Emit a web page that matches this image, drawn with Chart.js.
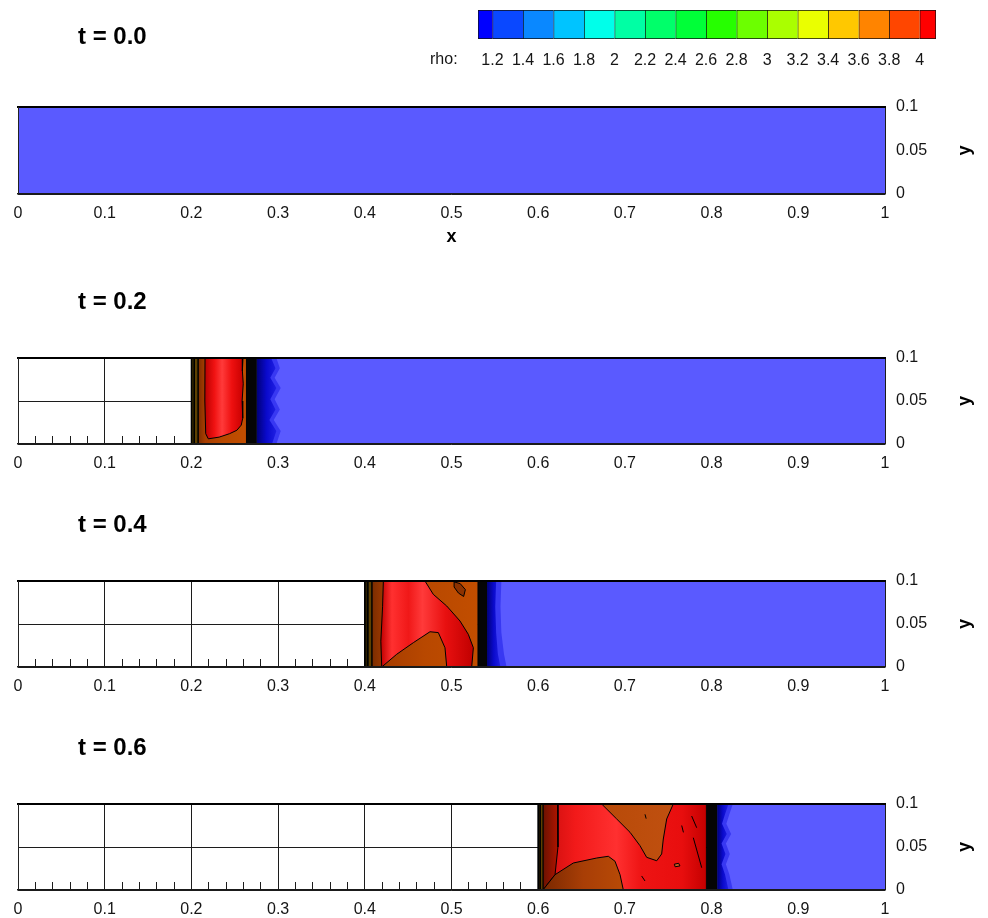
<!DOCTYPE html>
<html>
<head>
<meta charset="utf-8">
<title>Density field, shock tube, t = 0.0 to 0.6</title>
<script src="https://cdn.jsdelivr.net/npm/chart.js@4.4.1/dist/chart.umd.min.js"></script>
<style>
  html, body { margin: 0; padding: 0; background: #fff; }
  #page { position: relative; width: 988px; height: 918px; overflow: hidden; background: #fff; }
  .band { position: absolute; left: 0; width: 988px; }
  #legendBox { position: absolute; left: 400px; top: 0; width: 588px; height: 80px; }
</style>
</head>
<body>
<div id="page">
  <div class="band" style="top:0;height:255px"><canvas id="panel0"></canvas></div>
  <div class="band" style="top:255px;height:225px"><canvas id="panel1"></canvas></div>
  <div class="band" style="top:480px;height:222px"><canvas id="panel2"></canvas></div>
  <div class="band" style="top:702px;height:216px"><canvas id="panel3"></canvas></div>
  <div id="legendBox"><canvas id="legend"></canvas></div>
</div>
<script>
// ---------- axes ----------
const xTicks = [0, 0.1, 0.2, 0.3, 0.4, 0.5, 0.6, 0.7, 0.8, 0.9, 1];
const xMinorTicks = [0.02, 0.04, 0.06, 0.08, 0.12, 0.14, 0.16, 0.18, 0.22, 0.24, 0.26, 0.28,
  0.32, 0.34, 0.36, 0.38, 0.42, 0.44, 0.46, 0.48, 0.52, 0.54, 0.56, 0.58, 0.62, 0.64, 0.66, 0.68,
  0.72, 0.74, 0.76, 0.78, 0.82, 0.84, 0.86, 0.88, 0.92, 0.94, 0.96, 0.98];
const yTicks = [0, 0.05, 0.1];
const xName = 'x';
const yName = 'y';
const timeLabels = ['t = 0.0', 't = 0.2', 't = 0.4', 't = 0.6'];

// ---------- density legend ----------
const rhoName = 'rho:';
const rhoTicks = [1.2, 1.4, 1.6, 1.8, 2, 2.2, 2.4, 2.6, 2.8, 3, 3.2, 3.4, 3.6, 3.8, 4];
const rhoLevels = [1.105, 1.2, 1.4, 1.6, 1.8, 2, 2.2, 2.4, 2.6, 2.8, 3, 3.2, 3.4, 3.6, 3.8, 4, 4.107];
const rhoColors = ['#0000ff', '#0a48ff', '#0a88ff', '#00c4ff', '#00ffea', '#00ffa4', '#00ff6a',
  '#00ff38', '#26ff00', '#6cff00', '#aaff00', '#eaff00', '#ffc800', '#ff8400', '#ff4600', '#ff0000'];

// ---------- density regions (x, y) ----------
// t = 0.0 : undisturbed gas
const gas00 = [[0, 0], [1, 0], [1, 0.1], [0, 0.1], [0, 0]];

// t = 0.2
const wallA02 = [[0.2, 0], [0.2035, 0], [0.2035, 0.1], [0.2, 0.1], [0.2, 0]];
const wallB02 = [[0.2035, 0], [0.2075, 0], [0.2075, 0.1], [0.2035, 0.1], [0.2035, 0]];
const slab02 = [[0.2075, 0], [0.2635, 0], [0.2635, 0.1], [0.2075, 0.1], [0.2075, 0]];
const core02 = [[0.2157, 0.1], [0.2595, 0.1], [0.2588, 0.085], [0.2598, 0.07], [0.2585, 0.05],
  [0.2592, 0.03], [0.2575, 0.022], [0.2525, 0.016], [0.244, 0.012], [0.232, 0.008], [0.2195, 0.006],
  [0.2165, 0.012], [0.2155, 0.05], [0.2157, 0.1]];
const shell02 = [[0.2635, 0], [0.2755, 0], [0.2755, 0.1], [0.2635, 0.1], [0.2635, 0]];
const frontDark02 = [[0.2755, 0.1], [0.292, 0.1], [0.297, 0.088], [0.291, 0.077], [0.298, 0.065],
  [0.291, 0.052], [0.297, 0.04], [0.29, 0.028], [0.298, 0.015], [0.293, 0], [0.2755, 0], [0.2755, 0.1]];
const frontMid02 = [[0.2755, 0.1], [0.298, 0.1], [0.302, 0.088], [0.296, 0.077], [0.303, 0.065],
  [0.296, 0.052], [0.302, 0.04], [0.295, 0.028], [0.303, 0.015], [0.298, 0], [0.2755, 0], [0.2755, 0.1]];
const gas02 = [[0.27, 0], [1, 0], [1, 0.1], [0.27, 0.1], [0.27, 0]];

// t = 0.4
const wallA04 = [[0.4, 0], [0.4035, 0], [0.4035, 0.1], [0.4, 0.1], [0.4, 0]];
const wallB04 = [[0.4035, 0], [0.408, 0], [0.408, 0.1], [0.4035, 0.1], [0.4035, 0]];
const slab04 = [[0.408, 0], [0.5305, 0], [0.5305, 0.1], [0.408, 0.1], [0.408, 0]];
const core04 = [[0.4214, 0.1], [0.4694, 0.1], [0.479, 0.0845], [0.4945, 0.0709], [0.5098, 0.0535],
  [0.5194, 0.038], [0.5252, 0.0224], [0.5233, 0], [0.4945, 0], [0.4925, 0.0224], [0.4848, 0.04],
  [0.4752, 0.041], [0.456, 0.0283], [0.4368, 0.0148], [0.4195, 0], [0.4185, 0.03], [0.4205, 0.07],
  [0.4214, 0.1]];
const eddy04 = [[0.503, 0.099], [0.51, 0.097], [0.516, 0.09], [0.514, 0.082], [0.508, 0.086],
  [0.503, 0.093], [0.503, 0.099]];
const shell04 = [[0.5305, 0], [0.541, 0], [0.541, 0.1], [0.5305, 0.1], [0.5305, 0]];
const frontDark04 = [[0.541, 0.1], [0.5515, 0.1], [0.5505, 0.07], [0.5515, 0.04], [0.5535, 0.015],
  [0.5565, 0], [0.541, 0], [0.541, 0.1]];
const frontMid04 = [[0.541, 0.1], [0.5575, 0.1], [0.5565, 0.07], [0.5575, 0.04], [0.5605, 0.015],
  [0.5635, 0], [0.541, 0], [0.541, 0.1]];
const gas04 = [[0.535, 0], [1, 0], [1, 0.1], [0.535, 0.1], [0.535, 0]];

// t = 0.6
const wallA06 = [[0.6, 0], [0.6025, 0], [0.6025, 0.1], [0.6, 0.1], [0.6, 0]];
const wallB06 = [[0.6025, 0], [0.6055, 0], [0.6055, 0.1], [0.6025, 0.1], [0.6025, 0]];
const slab06 = [[0.6055, 0], [0.794, 0], [0.794, 0.1], [0.6055, 0.1], [0.6055, 0]];
const rim06 = [[0.6055, 0.1], [0.6225, 0.1], [0.6228, 0.05], [0.6194, 0.0178], [0.6055, 0], [0.6055, 0.1]];
const lobeA06 = [[0.6732, 0.1], [0.6905, 0.0826], [0.7059, 0.0671], [0.7174, 0.0515], [0.7251, 0.038],
  [0.7367, 0.034], [0.7424, 0.0419], [0.7443, 0.0593], [0.7482, 0.0826], [0.7558, 0.1], [0.6732, 0.1]];
const lobeB06 = [[0.6055, 0], [0.6194, 0.0178], [0.6405, 0.0314], [0.6675, 0.0372], [0.6809, 0.0392],
  [0.6886, 0.0334], [0.6944, 0.0178], [0.6982, 0], [0.6055, 0]];
const blob06 = [[0.757, 0.03], [0.762, 0.031], [0.7635, 0.028], [0.758, 0.027], [0.757, 0.03]];
const streak06a = [[0.7232, 0.088], [0.7245, 0.083]];
const streak06b = [[0.777, 0.086], [0.7828, 0.0724]];
const streak06c = [[0.7789, 0.0608], [0.7886, 0.0259]];
const streak06d = [[0.7193, 0.0163], [0.7232, 0.0105]];
const streak06e = [[0.7655, 0.075], [0.7675, 0.067]];
const shell06 = [[0.794, 0], [0.8065, 0], [0.8065, 0.1], [0.794, 0.1], [0.794, 0]];
const frontDark06 = [[0.8065, 0.1], [0.8195, 0.1], [0.8155, 0.088], [0.812, 0.077], [0.8175, 0.065],
  [0.8115, 0.054], [0.816, 0.042], [0.8115, 0.03], [0.8155, 0.018], [0.8195, 0], [0.8065, 0], [0.8065, 0.1]];
const frontMid06 = [[0.8065, 0.1], [0.8245, 0.1], [0.8205, 0.088], [0.817, 0.077], [0.8225, 0.065],
  [0.8165, 0.054], [0.821, 0.042], [0.8165, 0.03], [0.8205, 0.018], [0.8245, 0], [0.8065, 0], [0.8065, 0.1]];
const gas06 = [[0.8, 0], [1, 0], [1, 0.1], [0.8, 0.1], [0.8, 0]];

// ---------- styles ----------
const FONT = '"Liberation Sans", Arial, Helvetica, sans-serif';
const GAS = '#5a5aff';
const INK = '#050505';
const GRID = '#1c1c1c';
const EDGE = '#000000';
const wallDark = '#2a1f00';
const wallBrown = '#5e4000';
const orangeStops = [[0, '#7a2c00'], [0.15, '#a83e00'], [0.5, '#b84800'], [1, '#c24e00']];
const frontStops = [[0, '#00007a'], [0.5, '#0a0acc'], [1, '#2020e4']];
const frontMid = '#3838f2';

Chart.defaults.font.family = FONT;
Chart.defaults.font.size = 16;
Chart.defaults.color = '#151515';

// horizontal colour sweep across a region, placed with the x scale
function sweep(pts, stops) {
  const xs = pts.map(p => p[0]);
  const lo = Math.min(...xs), hi = Math.max(...xs);
  return (c) => {
    const sc = c.chart.scales.x;
    if (!sc) return stops[0][1];
    const a = sc.getPixelForValue(lo), b = sc.getPixelForValue(hi);
    if (!isFinite(a) || !isFinite(b) || a === b) return stops[0][1];
    const g = c.chart.ctx.createLinearGradient(a, 0, b, 0);
    stops.forEach(([t, col]) => g.addColorStop(t, col));
    return g;
  };
}

// layer lists, bottom first
const fields = [
  [
    { pts: gas00, fill: GAS }
  ],
  [
    { pts: gas02, fill: GAS },
    { pts: frontMid02, fill: frontMid },
    { pts: frontDark02, stops: frontStops },
    { pts: shell02, fill: INK },
    { pts: slab02, stops: orangeStops, edge: true },
    { pts: core02, stops: [[0, '#b80000'], [0.25, '#f01212'], [0.45, '#ff3a3a'], [0.7, '#ee1010'], [1, '#c80000']], edge: true },
    { pts: wallA02, fill: wallDark, edge: true },
    { pts: wallB02, fill: wallBrown, edge: true }
  ],
  [
    { pts: gas04, fill: GAS },
    { pts: frontMid04, fill: frontMid },
    { pts: frontDark04, stops: frontStops },
    { pts: shell04, fill: INK },
    { pts: slab04, stops: orangeStops, edge: true },
    { pts: core04, stops: [[0, '#c00000'], [0.12, '#ff3030'], [0.3, '#f01818'], [0.45, '#ff3a3a'], [0.7, '#e81010'], [1, '#c00000']], edge: true },
    { pts: eddy04, fill: '#8c3200', edge: true },
    { pts: wallA04, fill: wallDark, edge: true },
    { pts: wallB04, fill: wallBrown, edge: true }
  ],
  [
    { pts: gas06, fill: GAS },
    { pts: frontMid06, fill: frontMid },
    { pts: frontDark06, stops: frontStops },
    { pts: shell06, fill: INK },
    { pts: slab06, stops: [[0, '#c80c0c'], [0.2, '#f21a1a'], [0.45, '#ff3030'], [0.6, '#ee1414'], [0.85, '#e80e0e'], [1, '#c40000']], edge: true },
    { pts: rim06, stops: [[0, '#6a1200'], [1, '#b01400']], edge: true },
    { pts: lobeA06, stops: [[0, '#b84a08'], [1, '#c05010']], edge: true },
    { pts: lobeB06, stops: [[0, '#7a2800'], [0.5, '#a83e06'], [1, '#b84a06']], edge: true },
    { pts: blob06, fill: '#d06020', edge: true },
    { pts: streak06a, open: true },
    { pts: streak06b, open: true },
    { pts: streak06c, open: true },
    { pts: streak06d, open: true },
    { pts: streak06e, open: true },
    { pts: wallA06, fill: wallDark, edge: true },
    { pts: wallB06, fill: wallBrown, edge: true }
  ]
];

// page geometry of each panel canvas
const frames = [
  { top: 107, bottom: 3, xh: 58, gap: 70, xTitle: true },
  { top: 103, bottom: 6, xh: 30, gap: 56, xTitle: false },
  { top: 101, bottom: 5, xh: 30, gap: 56, xTitle: false },
  { top: 102, bottom: 2, xh: 26, gap: 56, xTitle: false }
];

function layerDataset(layer, i, n) {
  const open = !!layer.open;
  const stroked = open || !!layer.edge;
  return {
    data: layer.pts.map(([x, y]) => ({ x, y })),
    xAxisID: 'x',
    yAxisID: 'y',
    fill: open ? false : 'shape',
    backgroundColor: layer.stops ? sweep(layer.pts, layer.stops) : (layer.fill || 'rgba(0,0,0,0)'),
    borderColor: stroked ? EDGE : 'rgba(0,0,0,0)',
    borderWidth: stroked ? 1 : 0,
    pointRadius: 0,
    pointHoverRadius: 0,
    pointHitRadius: 0,
    tension: 0,
    order: n - i
  };
}

// panel heading and the rotated y name
const panelText = {
  id: 'panelText',
  afterDraw(chart, args, opts) {
    const { ctx, chartArea } = chart;
    const ys = chart.scales.y;
    ctx.save();
    ctx.fillStyle = '#000';
    ctx.font = 'bold 24px ' + FONT;
    ctx.textAlign = 'left';
    ctx.textBaseline = 'middle';
    ctx.fillText(opts.title, chartArea.left + 60, chartArea.top - opts.gap);
    ctx.font = 'bold 18px ' + FONT;
    ctx.textAlign = 'center';
    ctx.translate(chartArea.right + 80, ys.getPixelForValue(0.05));
    ctx.rotate(-Math.PI / 2);
    ctx.fillText(opts.yName, 0, 0);
    ctx.restore();
  }
};

function makePanel(k) {
  const f = frames[k];
  const layers = fields[k];
  const n = layers.length;
  return new Chart(document.getElementById('panel' + k), {
    type: 'line',
    data: { datasets: layers.map((l, i) => layerDataset(l, i, n)) },
    options: {
      responsive: true,
      maintainAspectRatio: false,
      animation: false,
      events: [],
      layout: { padding: { left: 18, right: 0, top: f.top, bottom: f.bottom } },
      plugins: {
        legend: { display: false },
        tooltip: { enabled: false },
        panelText: { title: timeLabels[k], gap: f.gap, yName: yName }
      },
      scales: {
        x: {
          type: 'linear', position: 'bottom', min: 0, max: 1, weight: 1,
          afterBuildTicks: s => { s.ticks = xTicks.map(v => ({ value: v })); },
          afterFit: s => { s.height = f.xh; },
          ticks: { callback: v => String(v), padding: 10, maxRotation: 0, autoSkip: false, color: '#151515', font: { size: 16 } },
          grid: { color: GRID, lineWidth: 1, drawTicks: false },
          border: { display: true, color: '#1a1a1a', width: 1.5, z: 1 },
          title: { display: f.xTitle, text: xName, color: '#000', font: { size: 18, weight: 'bold' }, padding: { top: 0, bottom: 4 } }
        },
        xMinor: {
          axis: 'x', type: 'linear', position: 'bottom', min: 0, max: 1, weight: 0,
          afterBuildTicks: s => { s.ticks = xMinorTicks.map(v => ({ value: v })); },
          afterFit: s => { s.height = 0; },
          ticks: { display: false },
          grid: { drawOnChartArea: false, drawTicks: true, tickLength: -8, color: GRID, lineWidth: 1 },
          border: { display: false }
        },
        xTop: {
          axis: 'x', type: 'linear', position: 'top', min: 0, max: 1,
          afterFit: s => { s.height = 0; },
          ticks: { display: false },
          grid: { display: false },
          border: { display: true, color: '#000', width: 2, z: 1 }
        },
        y: {
          type: 'linear', position: 'right', min: 0, max: 0.1,
          afterBuildTicks: s => { s.ticks = yTicks.map(v => ({ value: v })); },
          afterFit: s => { s.width = 103; },
          ticks: { callback: v => String(v), padding: 11, color: '#151515', font: { size: 16 } },
          grid: { color: GRID, lineWidth: 1, drawTicks: false },
          border: { display: false }
        },
        yLeft: {
          axis: 'y', type: 'linear', position: 'left', min: 0, max: 0.1,
          afterFit: s => { s.width = 0; },
          ticks: { display: false },
          grid: { display: false },
          border: { display: true, color: '#222', width: 1, z: 1 }
        }
      }
    },
    plugins: [panelText]
  });
}

for (let k = 0; k < 4; k++) makePanel(k);

// ---------- colour bar ----------
const legendText = {
  id: 'legendText',
  afterDraw(chart, args, opts) {
    const { ctx, chartArea } = chart;
    ctx.save();
    ctx.fillStyle = '#151515';
    ctx.font = '16px ' + FONT;
    ctx.textAlign = 'left';
    ctx.textBaseline = 'middle';
    ctx.fillText(opts.text, chartArea.left - 48, chartArea.bottom + 20.6);
    ctx.restore();
  }
};

new Chart(document.getElementById('legend'), {
  type: 'bar',
  data: {
    labels: [''],
    datasets: rhoColors.map((col, i) => ({
      data: [[rhoLevels[i], rhoLevels[i + 1]]],
      backgroundColor: col,
      borderColor: '#111',
      borderWidth: { top: 1, bottom: 1, left: 1, right: i === rhoColors.length - 1 ? 1 : 0 },
      borderSkipped: false,
      grouped: false,
      barPercentage: 1,
      categoryPercentage: 1
    }))
  },
  options: {
    indexAxis: 'y',
    responsive: true,
    maintainAspectRatio: false,
    animation: false,
    events: [],
    layout: { padding: { left: 78, right: 52, top: 10, bottom: 0 } },
    plugins: { legend: { display: false }, tooltip: { enabled: false }, legendText: { text: rhoName } },
    scales: {
      y: { type: 'category', display: false },
      x: {
        type: 'linear', position: 'bottom', min: rhoLevels[0], max: rhoLevels[rhoLevels.length - 1],
        afterBuildTicks: s => { s.ticks = rhoTicks.map(v => ({ value: v })); },
        afterFit: s => { s.height = 41; },
        ticks: { callback: v => String(v), padding: 12, maxRotation: 0, autoSkip: false, color: '#151515', font: { size: 16 } },
        grid: { display: false, drawTicks: false },
        border: { display: false }
      }
    }
  },
  plugins: [legendText]
});
</script>
</body>
</html>
